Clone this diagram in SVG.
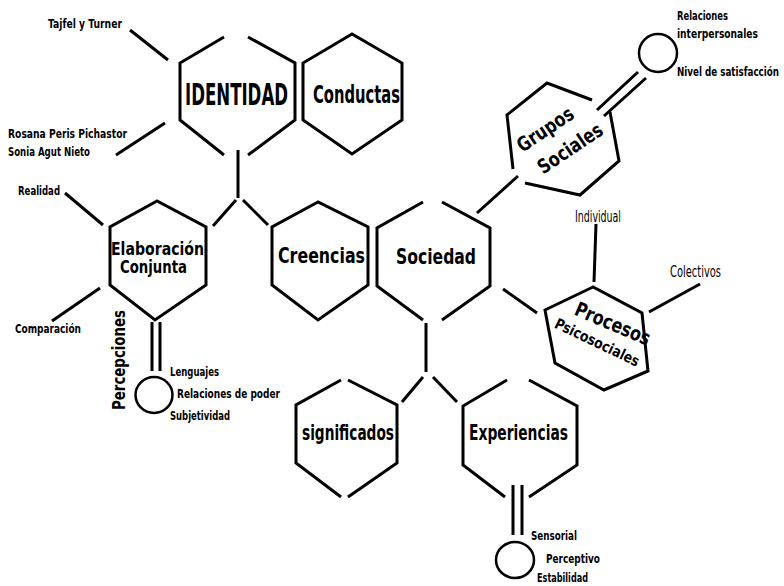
<svg xmlns="http://www.w3.org/2000/svg" width="784" height="586" viewBox="0 0 784 586">
<style>
.hex{fill:none;stroke:#000;stroke-width:3;stroke-linejoin:miter}
.ln{fill:none;stroke:#000;stroke-width:3}
.c{fill:none;stroke:#000;stroke-width:2.5}
text{font-family:"Liberation Sans Narrow","DejaVu Sans","Liberation Sans",sans-serif;font-stretch:condensed;font-weight:bold;fill:#000}
.s{font-size:13px}
.m{font-size:22px}
.l{font-size:15px;font-weight:normal}
</style>
<rect width="784" height="586" fill="#fff"/>
<g id="connectors">
<path class="ln" d="M130,30 L168,60"/>
<path class="ln" d="M116,155 L165,123"/>
<path class="ln" d="M238,150 L238,198"/>
<path class="ln" d="M236,200 L213,226"/>
<path class="ln" d="M243,200 L268,225"/>
<path class="ln" d="M65,193 L103,225"/>
<path class="ln" d="M52,321 L100,288"/>
<path class="ln" d="M152,322 L152,371 M160,322 L160,371"/>
<path class="ln" d="M477,213 L518,176"/>
<path class="ln" d="M597,110 L638,72 M604,116 L646,78"/>
<path class="ln" d="M503,289 L537,313"/>
<path class="ln" d="M596,224 L594,282"/>
<path class="ln" d="M700,284 L649,312"/>
<path class="ln" d="M426,323 L426,372"/>
<path class="ln" d="M423,377 L402,402"/>
<path class="ln" d="M433,377 L457,402"/>
<path class="ln" d="M513,485 L513,535 M522,485 L522,535"/>
</g>
<g id="identidad">
<path class="hex" d="M224,37 L180,63 L180,120 L224,155 M248,155 L295,120 L295,63 L248,37"/>
<text x="185" y="105" font-size="31" textLength="103" lengthAdjust="spacingAndGlyphs">IDENTIDAD</text>
</g>
<g id="conductas">
<path class="hex" d="M352,34 L303,63 L303,120 L352,154 L402,120 L402,63 Z"/>
<text x="313" y="103" font-size="24" textLength="87" lengthAdjust="spacingAndGlyphs">Conductas</text>
</g>
<g id="elaboracion">
<path class="hex" d="M157,201 L110,227 L110,285 L155,320 L206,285 L206,227 Z"/>
<text x="111" y="255" font-size="18" textLength="93" lengthAdjust="spacingAndGlyphs">Elaboración</text>
<text x="120" y="273" font-size="18" textLength="67" lengthAdjust="spacingAndGlyphs">Conjunta</text>
</g>
<g id="creencias">
<path class="hex" d="M318,202 L272,227 L272,285 L318,320 L368,285 L368,227 Z"/>
<text x="278" y="263" class="m" textLength="87" lengthAdjust="spacingAndGlyphs">Creencias</text>
</g>
<g id="sociedad">
<path class="hex" d="M423,202 L377,228 L377,286 L423,320 M442,320 L490,286 L490,228 L442,202"/>
<text x="396" y="264" class="m" textLength="80" lengthAdjust="spacingAndGlyphs">Sociedad</text>
</g>
<g id="significados">
<path class="hex" d="M341,380 L296,405 L296,463 L341,497 M348,497 L397,463 L397,405 L348,380"/>
<text x="302" y="440" font-size="21" textLength="92" lengthAdjust="spacingAndGlyphs">significados</text>
</g>
<g id="experiencias">
<path class="hex" d="M507,380 L463,406 L463,465 L505,497 M529,497 L577,465 L577,406 L529,380"/>
<text x="469" y="440" font-size="21" textLength="99" lengthAdjust="spacingAndGlyphs">Experiencias</text>
</g>
<g id="grupos-sociales">
<path class="hex" d="M592,100 L547,83 L507,115 L513,169 M525,183 L580,195 L619,161 L610,112"/>
<text transform="translate(549,135) rotate(-34)" text-anchor="middle" font-size="20" textLength="64" lengthAdjust="spacingAndGlyphs">Grupos</text>
<text transform="translate(574,154) rotate(-34)" text-anchor="middle" font-size="20" textLength="74" lengthAdjust="spacingAndGlyphs">Sociales</text>
</g>
<g id="procesos">
<path class="hex" d="M593,287 L545,310 L555,363 L604,390 L648,371 L642,313 Z"/>
<text transform="translate(610,330) rotate(23)" text-anchor="middle" font-size="20" textLength="80" lengthAdjust="spacingAndGlyphs">Procesos</text>
<text transform="translate(595,347) rotate(25.5)" text-anchor="middle" font-size="15" textLength="92" lengthAdjust="spacingAndGlyphs">Psicosociales</text>
</g>
<g id="circulo-percepciones">
<ellipse class="c" cx="154" cy="395" rx="18.5" ry="18"/>
</g>
<g id="circulo-grupos">
<circle class="c" cx="658" cy="53" r="19"/>
</g>
<g id="circulo-experiencias">
<ellipse class="c" cx="515" cy="560" rx="19" ry="18"/>
</g>
<g id="label-tajfel"><text class="s" x="48" y="28" textLength="74" lengthAdjust="spacingAndGlyphs">Tajfel  y Turner</text></g>
<g id="label-autoras">
<text class="s" x="8" y="138" textLength="119" lengthAdjust="spacingAndGlyphs">Rosana  Peris  Pichastor</text>
<text class="s" x="8" y="156" textLength="82" lengthAdjust="spacingAndGlyphs">Sonia  Agut  Nieto</text>
</g>
<g id="label-realidad"><text class="s" x="18" y="195" textLength="42" lengthAdjust="spacingAndGlyphs">Realidad</text></g>
<g id="label-comparacion"><text class="s" x="15" y="333" textLength="66" lengthAdjust="spacingAndGlyphs">Comparación</text></g>
<g id="label-percepciones"><text transform="translate(125,360) rotate(-90)" text-anchor="middle" font-size="17" textLength="100" lengthAdjust="spacingAndGlyphs">Percepciones</text></g>
<g id="label-lenguajes"><text class="s" x="170" y="376" textLength="49" lengthAdjust="spacingAndGlyphs">Lenguajes</text></g>
<g id="label-relaciones-poder"><text class="s" x="177" y="398" textLength="103" lengthAdjust="spacingAndGlyphs">Relaciones  de poder</text></g>
<g id="label-subjetividad"><text class="s" x="170" y="420" textLength="60" lengthAdjust="spacingAndGlyphs">Subjetividad</text></g>
<g id="label-relaciones-interpersonales">
<text class="s" x="677" y="20" textLength="51" lengthAdjust="spacingAndGlyphs">Relaciones</text>
<text class="s" x="677" y="38" textLength="81" lengthAdjust="spacingAndGlyphs">interpersonales</text>
</g>
<g id="label-satisfaccion"><text class="s" x="677" y="76" textLength="102" lengthAdjust="spacingAndGlyphs">Nivel de satisfacción</text></g>
<g id="label-individual"><text class="l" x="575" y="222" textLength="46" lengthAdjust="spacingAndGlyphs">Individual</text></g>
<g id="label-colectivos"><text class="l" x="670" y="277" textLength="51" lengthAdjust="spacingAndGlyphs">Colectivos</text></g>
<g id="label-sensorial"><text class="s" x="531" y="540" textLength="46" lengthAdjust="spacingAndGlyphs">Sensorial</text></g>
<g id="label-perceptivo"><text class="s" x="546" y="563" textLength="54" lengthAdjust="spacingAndGlyphs">Perceptivo</text></g>
<g id="label-estabilidad"><text class="s" x="537" y="582" textLength="51" lengthAdjust="spacingAndGlyphs">Estabilidad</text></g>
</svg>
